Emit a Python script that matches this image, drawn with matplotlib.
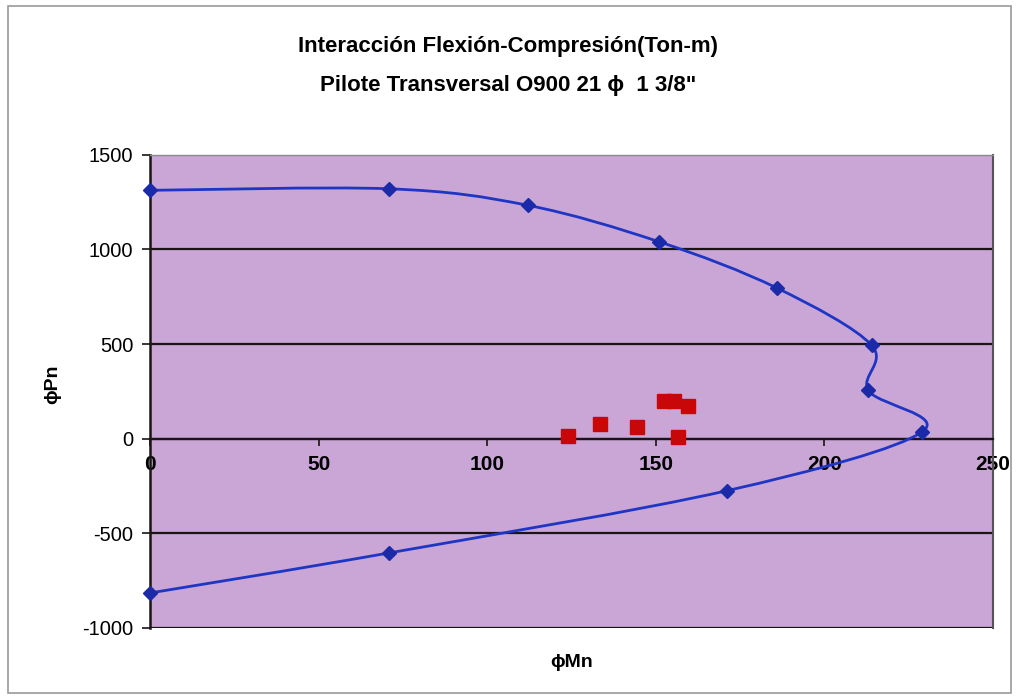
import matplotlib
matplotlib.use("Agg")
import matplotlib.pyplot as plt
from matplotlib.path import Path
from matplotlib.patches import PathPatch, Rectangle
import numpy as np

plt.rcParams['font.family'] = ['Liberation Sans', 'DejaVu Sans']

# Interaction diagram (phi Mn, phi Pn)
curve_mn = [0, 71, 112, 151, 186, 214, 213, 229, 171, 71, 0]
curve_pn = [1312, 1320, 1233, 1040, 795, 493, 255, 37, -275, -603, -815]

# Load demands
load_mn = [124, 133.5, 144.5, 152.5, 155.5, 159.5, 156.5]
load_pn = [15, 80, 63, 197, 197, 175, 10]

title_lines = ["Interacción Flexión-Compresión(Ton-m)", "Pilote Transversal O900 21 ϕ  1 3/8\""]
x_ticks = [0, 50, 100, 150, 200, 250]
y_ticks = [-1000, -500, 0, 500, 1000, 1500]

fig = plt.figure(figsize=(10.17, 6.97), dpi=100)
fig.patch.set_facecolor('white')
fig.add_artist(Rectangle((0.008, 0.006), 0.986, 0.986, transform=fig.transFigure,
                         fill=False, edgecolor='#9a9a9a', linewidth=1.2))

ax = fig.add_axes([0.1475, 0.099, 0.829, 0.679])
ax.set_facecolor('#c9a6d6')
ax.set_xlim(0, 250)
ax.set_ylim(-1000, 1500)

for yv in y_ticks[:-1]:
    ax.axhline(yv, color='#1a1414', linewidth=1.6, zorder=1)

# smooth line (Excel-like) through the curve points
pts = np.column_stack([curve_mn, curve_pn]).astype(float)
ext = np.vstack([pts[0], pts, pts[-1]])
verts = [tuple(pts[0])]
codes = [Path.MOVETO]
for i in range(1, len(ext) - 2):
    p0, p1, p2, p3 = ext[i - 1], ext[i], ext[i + 1], ext[i + 2]
    c1 = p1 + (p2 - p0) / 6.0
    c2 = p2 - (p3 - p1) / 6.0
    verts += [tuple(c1), tuple(c2), tuple(p2)]
    codes += [Path.CURVE4] * 3
ax.add_patch(PathPatch(Path(verts, codes), fill=False, edgecolor='#1f36c4',
                       linewidth=2.0, zorder=3, clip_on=False))
ax.plot(curve_mn, curve_pn, linestyle='none', marker='D', markersize=7,
        color='#1a2aa8', zorder=4, clip_on=False)

ax.plot(load_mn, load_pn, linestyle='none', marker='s', markersize=10,
        color='#c80808', zorder=5)

# spines
ax.spines['bottom'].set_position(('data', 0))
ax.spines['bottom'].set_color('#1a1414')
ax.spines['bottom'].set_linewidth(1.6)
ax.spines['left'].set_color('#1a1414')
ax.spines['left'].set_linewidth(1.8)
ax.spines['right'].set_color('#555555')
ax.spines['right'].set_linewidth(1.5)
ax.spines['top'].set_color('#8a8a8a')
ax.spines['top'].set_linewidth(1.0)

ax.set_xticks(x_ticks)
ax.set_xticklabels([str(v) for v in x_ticks], fontsize=15, fontweight='bold')
ax.set_yticks(y_ticks)
ax.set_yticklabels([str(v) for v in y_ticks], fontsize=14.5)
ax.tick_params(axis='x', direction='out', length=5, width=1.2, pad=7, color='#1a1414')
ax.tick_params(axis='y', direction='out', length=6, width=1.2, pad=6, color='#1a1414')

fig.text(0.5, 0.933, title_lines[0], ha='center', va='center', fontsize=16, fontweight='bold')
fig.text(0.5, 0.878, title_lines[1], ha='center', va='center', fontsize=16, fontweight='bold')
fig.text(0.052, 0.448, "ϕPn", rotation=90, ha='center', va='center', fontsize=14, fontweight='bold')
fig.text(0.562, 0.05, "ϕMn", ha='center', va='center', fontsize=14, fontweight='bold')

fig.savefig("out.png", dpi=100, facecolor='white')
